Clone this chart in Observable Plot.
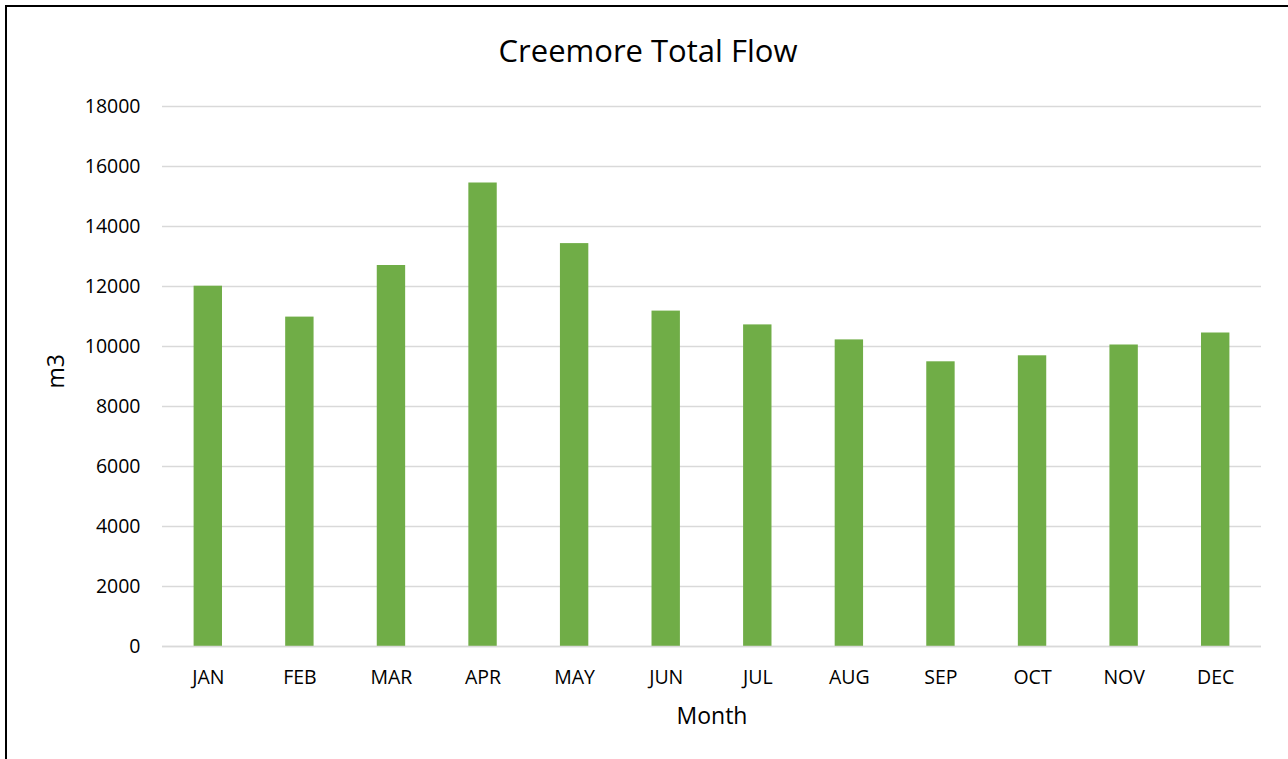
<!DOCTYPE html>
<html>
<head>
<meta charset="utf-8">
<script src="https://cdn.jsdelivr.net/npm/d3@7"></script>
<script src="https://cdn.jsdelivr.net/npm/@observablehq/plot@0.6"></script>
<style>
  html, body { margin: 0; padding: 0; background: #fff; overflow: hidden; }
  #wrap { position: relative; width: 1288px; height: 759px; overflow: hidden; font-family: "Open Sans", sans-serif; }
  #frame { position: absolute; left: 5px; top: 5px; width: 1400px; height: 900px; border: 2px solid #000; box-sizing: border-box; }
  #title { position: absolute; left: 0; width: 1296px; top: 29px; text-align: center; font-size: 31px; color: #000; line-height: 42px; }
  #chart { position: absolute; left: 0; top: 0; }
</style>
</head>
<body>
<div id="wrap">
  <div id="frame"></div>
  <div id="chart"></div>
  <div id="title">Creemore Total Flow</div>
</div>
<script>
const months = ["JAN","FEB","MAR","APR","MAY","JUN","JUL","AUG","SEP","OCT","NOV","DEC"];
const flow = [12010, 10980, 12700, 15450, 13430, 11180, 10720, 10220, 9490, 9690, 10050, 10450];
const yTicks = [0, 2000, 4000, 6000, 8000, 10000, 12000, 14000, 16000, 18000];

const data = months.map((m, i) => ({month: m, value: flow[i]}));

const chart = Plot.plot({
  width: 1288,
  height: 759,
  marginLeft: 162,
  marginRight: 27,
  marginTop: 106,
  marginBottom: 113,
  style: {fontFamily: "Open Sans, sans-serif", fontSize: "20px", color: "#000", background: "transparent"},
  x: {domain: months, paddingInner: 0.69, paddingOuter: 0.345, round: false, label: null},
  y: {domain: [0, 18000], label: null},
  marks: [
    Plot.gridY(yTicks, {stroke: "#d9d9d9", strokeOpacity: 1, strokeWidth: 1.5}),
    Plot.barY(data, {x: "month", y: "value", fill: "#70ad47"}),
    Plot.ruleY([0], {stroke: "#d9d9d9", strokeWidth: 1.5}),
    Plot.axisY(yTicks, {tickSize: 0, tickPadding: 22, tickFormat: d => String(d), fontSize: 19.5, fill: "#000", label: null}),
    Plot.axisX({tickSize: 0, tickPadding: 24, fontSize: 19.5, fill: "#000", label: null}),
    Plot.text(["Month"], {frameAnchor: "bottom", dy: 77, fontSize: 23, fill: "#000"}),
    Plot.text(["m3"], {frameAnchor: "left", dx: -106, dy: 12, rotate: -90, fontSize: 23, fill: "#000"})
  ]
});
document.getElementById("chart").appendChild(chart);
</script>
</body>
</html>
